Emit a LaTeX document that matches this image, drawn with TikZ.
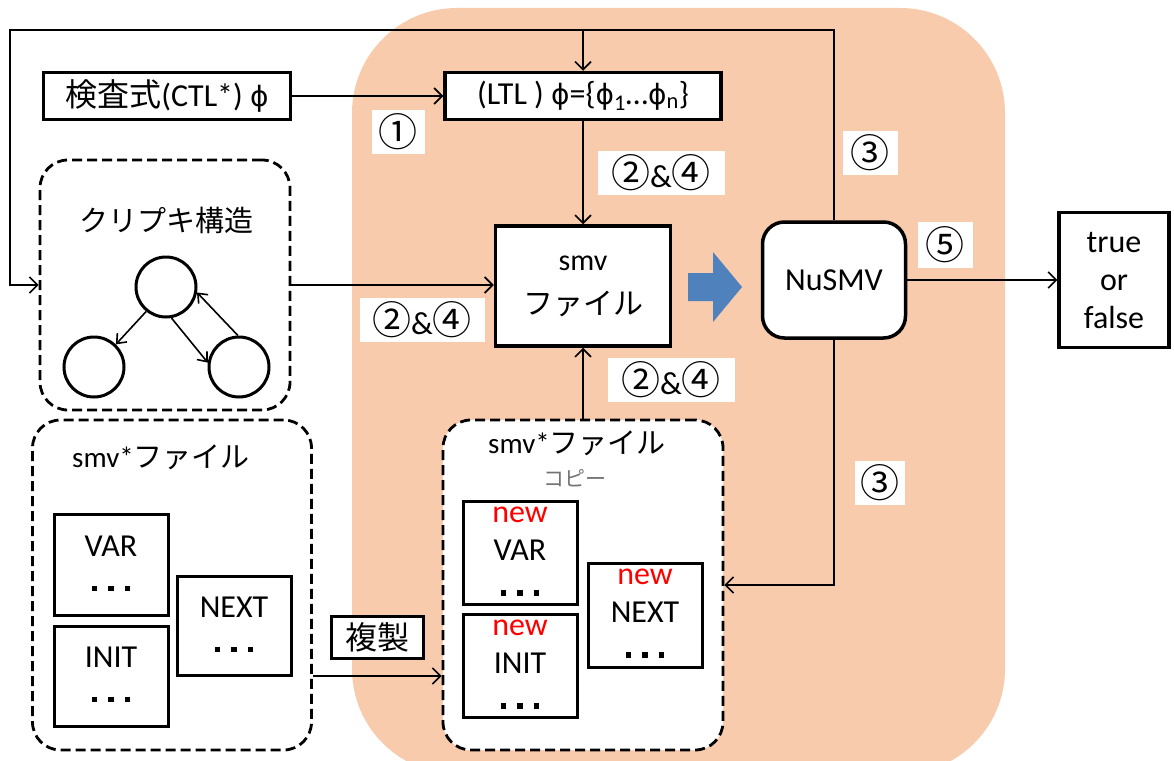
\documentclass[tikz,border=0pt]{standalone}
\usepackage{fontspec}
\setmainfont{Carlito}
\newfontfamily\jp{Noto Sans CJK JP}
\newfontfamily\dv{DejaVu Sans}
\usetikzlibrary{arrows.meta,positioning}
\definecolor{peach}{HTML}{F8CBAD}
\definecolor{arrowblue}{HTML}{4F81BD}
\newcommand\tdots{\rule[3pt]{5.5pt}{5.5pt}\hspace{11pt}\rule[3pt]{5.5pt}{5.5pt}\hspace{11pt}\rule[3pt]{5.5pt}{5.5pt}}
\newcommand\cn[1]{{\jp\fontsize{39}{39}\selectfont #1}}
\newcommand\phig{{\dv\fontsize{28}{28}\selectfont ϕ}}

\begin{document}
\begin{tikzpicture}[x=1pt, y=-1pt,
  every node/.style={font=\fontsize{32}{38}\selectfont},
  box/.style={draw, line width=3.5pt, fill=white, align=center, inner sep=0pt},
  dbox/.style={draw, line width=2.8pt, dash pattern=on 10pt off 5pt, rounded corners=28pt, fill=white, inner sep=0pt},
  sbox/.style={draw, line width=3pt, fill=white, align=center, inner sep=0pt, minimum width=114pt},
  lbl/.style={fill=white, inner sep=0pt, minimum height=44pt, minimum width=53pt},
  st/.style={circle, draw, line width=3pt, minimum size=60pt, inner sep=0pt},
  arr/.style={-{Straight Barb[length=8pt,width=16pt]}, line width=1.6pt},
  sarr/.style={-{Straight Barb[length=8pt,width=13pt]}, line width=1.6pt}
]
\useasboundingbox (0,0) rectangle (1174,760);
\fill[peach, rounded corners=105pt] (352,8) rectangle (1005,774);

\node[box, minimum width=247pt, minimum height=47pt] (chk) at (167,96) {{\jp 検査式}(CTL*) \phig};
\node[box, minimum width=276pt, minimum height=47pt] (ltl) at (583,96) {(LTL ) \phig=\{\phig\textsubscript{1}…\phig\textsubscript{n}\}};

\node[dbox, minimum width=250pt, minimum height=250pt] (kri) at (165,285) {};
\node[font=\jp\fontsize{29}{29}\selectfont] (krit) at (166,220) {クリプキ構造};
\node[st] (s0) at (166,287) {};
\node[st] (s1) at (94,367) {};
\node[st] (s2) at (239,367) {};

\node[box, minimum width=175pt, minimum height=120pt] (smv) at (583,286) {{\fontsize{30}{30}\selectfont smv}\\[6pt]{\jp\fontsize{30}{30}\selectfont ファイル}};
\fill[arrowblue] (688,273) -- (713,273) -- (713,252) -- (742,287) -- (713,322) -- (713,301) -- (688,301) -- cycle;
\node[box, rounded corners=22pt, minimum width=143pt, minimum height=116pt] (nusmv) at (834,280) {NuSMV};
\node[box, minimum width=110pt, minimum height=135pt] (tf) at (1114,280) {true\\or\\false};

\node[dbox, minimum width=279pt, minimum height=330pt] (orig) at (172,585) {};
\node[font=\fontsize{29}{29}\selectfont] (origt) at (161,457) {smv*{\jp ファイル}};
\node[sbox, minimum height=101pt] (var1) at (111,565) {VAR\\\tdots};
\node[sbox, minimum height=100pt] (init1) at (111,676) {INIT\\\tdots};
\node[sbox, minimum height=99pt] (next1) at (234,626) {NEXT\\\tdots};

\node[dbox, minimum width=280pt, minimum height=330pt] (copy) at (583,585) {};
\node[font=\fontsize{29}{29}\selectfont] (copyt) at (577,443) {smv*{\jp ファイル}};
\node[font=\jp\fontsize{21}{21}\selectfont, text=black!55] (copys) at (575,478) {コピー};
\node[sbox, minimum height=103pt] (var2) at (520,553) {\textcolor{red}{new}\\VAR\\\tdots};
\node[sbox, minimum height=103pt] (init2) at (520,666) {\textcolor{red}{new}\\INIT\\\tdots};
\node[sbox, minimum height=104pt] (next2) at (645,615) {\textcolor{red}{new}\\NEXT\\\tdots};

\node[box, line width=3pt, minimum width=92pt, minimum height=42pt] (dup) at (377,637) {\jp 複製};

\node[lbl] (n1) at (398,132) {\cn{①}};
\node[lbl, minimum width=127pt] (n24a) at (661,173) {\cn{②}\&\cn{④}};
\node[lbl, minimum width=55pt] (n3a) at (870,153) {\cn{③}};
\node[lbl, minimum width=55pt, minimum height=46pt] (n5) at (945,245) {\cn{⑤}};
\node[lbl, minimum width=125pt] (n24b) at (422,320) {\cn{②}\&\cn{④}};
\node[lbl, minimum width=127pt] (n24c) at (671,380) {\cn{②}\&\cn{④}};
\node[lbl, minimum width=50pt] (n3b) at (880,483) {\cn{③}};

\coordinate (tr) at (nusmv.north |- 0,30);
\coordinate (tl) at (10,30);
\draw[arr] (nusmv.north) -- (tr) -- (tl) |- (kri.west);
\draw[arr] (ltl.north |- tr) -- (ltl.north);
\draw[arr] (chk) -- (ltl);
\draw[arr] (ltl) -- (smv);
\draw[arr] (kri.east) -- (kri.east -| smv.west);
\draw[arr] (copy.north) -- (copy.north |- smv.south);
\draw[arr] (nusmv) -- (tf);
\draw[arr] (nusmv.south) |- (copy.east);
\draw[arr] ([yshift=-91pt]orig.east) -- ([yshift=-91pt]copy.west);

\draw[sarr] (s0.231) -- (s1.46);
\draw[sarr] (s0.-80) -- (s2.172);
\draw[sarr] (s2.92) -- (s0.-10);
\end{tikzpicture}
\end{document}
